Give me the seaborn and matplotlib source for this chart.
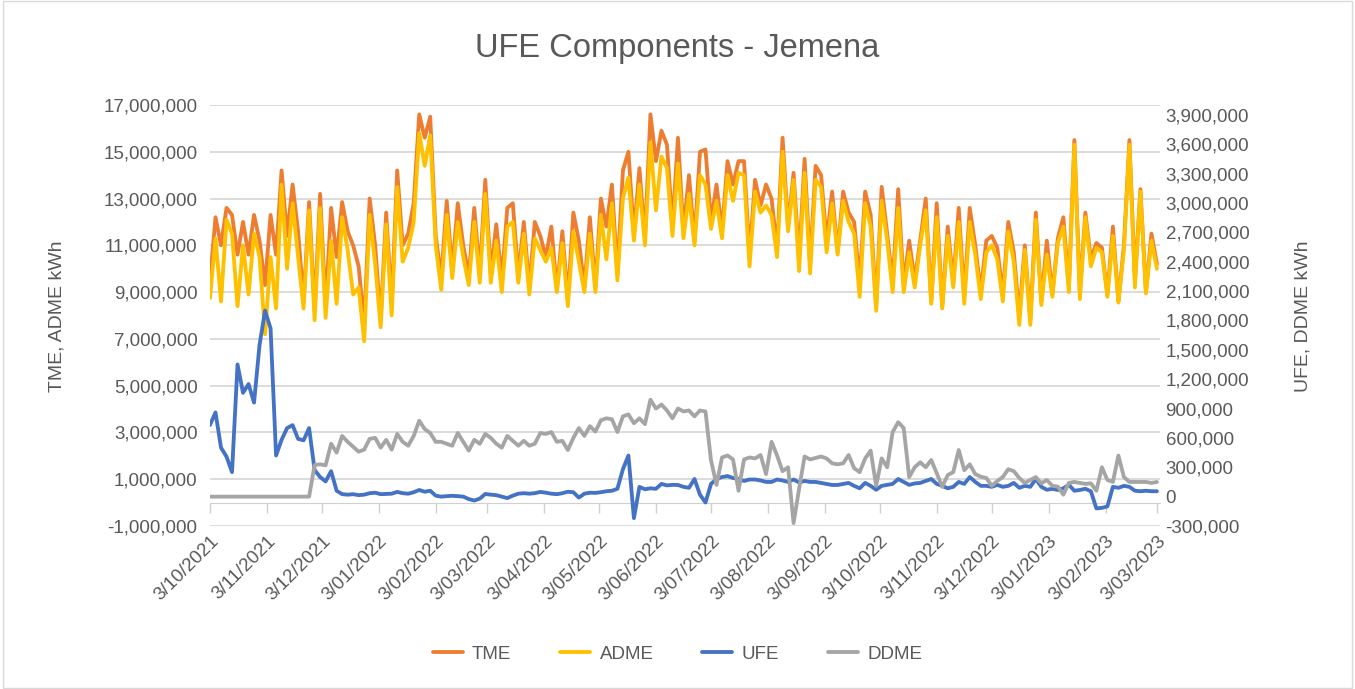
import numpy as np
import pandas as pd
import seaborn as sns
import matplotlib.pyplot as plt
import matplotlib.dates as mdates
from matplotlib.ticker import FuncFormatter

# readings taken off the chart every 3 days, starting 3/10/2021
start_date = "2021-10-03"
step = "3D"

# TME and ADME in millions of kWh (left axis)
tme_m = [
    9.45, 12.2, 11.0, 12.6, 12.3, 10.6, 12.0, 10.6, 12.3, 11.2,
    9.3, 12.3, 10.6, 14.2, 11.4, 13.6, 11.6, 8.6, 12.85, 8.2,
    13.2, 8.4, 12.6, 10.5, 12.85, 11.6, 11.0, 10.1, 7.6, 13.0,
    11.0, 7.8, 12.4, 8.5, 14.2, 11.0, 11.5, 12.8, 16.6, 15.6,
    16.5, 11.4, 9.6, 12.9, 9.9, 12.8, 11.0, 9.7, 12.6, 9.8,
    13.8, 9.8, 11.9, 9.5, 12.6, 12.8, 9.7, 12.0, 9.2, 12.0,
    11.4, 10.5, 11.8, 9.1, 11.6, 8.7, 12.4, 11.2, 9.2, 12.2,
    9.2, 13.0, 11.8, 13.6, 9.8, 14.2, 15.0, 11.5, 14.3, 11.3,
    16.6, 14.6, 15.9, 15.3, 11.8, 15.6, 11.6, 14.0, 11.2, 15.0,
    15.1, 12.0, 13.6, 11.6, 14.6, 13.6, 14.6, 14.6, 10.6, 13.8,
    12.7, 13.6, 13.0, 10.8, 15.6, 11.8, 14.1, 10.4, 14.7, 10.2,
    14.4, 14.0, 11.2, 13.3, 10.7, 13.3, 12.4, 12.0, 9.4, 13.3,
    12.3, 8.4, 13.5, 11.5, 9.4, 13.4, 9.3, 11.2, 9.5, 11.2,
    13.0, 8.6, 12.8, 8.4, 11.8, 9.4, 12.6, 8.8, 12.6, 11.0,
    9.0, 11.2, 11.4, 10.9, 8.9, 12.0, 10.7, 8.0, 11.0, 7.8,
    12.4, 8.6, 11.2, 8.9, 11.3, 12.2, 9.2, 15.5, 9.0, 12.4,
    10.4, 11.1, 10.9, 8.9, 11.8, 8.6, 11.0, 15.5, 9.5, 13.4,
    9.0, 11.5, 10.2,
]
adme_m = [
    8.75, 11.3, 8.6, 12.1, 11.5, 8.4, 11.0, 8.9, 11.5, 10.5,
    7.2, 10.5, 8.3, 13.6, 10.0, 12.8, 10.5, 8.3, 12.5, 7.8,
    12.6, 7.9, 11.2, 8.5, 12.2, 10.8, 8.9, 9.2, 6.9, 12.3,
    10.2, 7.5, 11.9, 8.0, 13.5, 10.3, 10.9, 12.0, 15.8, 14.4,
    15.7, 11.0, 9.1, 12.3, 9.6, 12.0, 10.5, 9.3, 12.0, 9.4,
    13.2, 9.4, 11.2, 9.0, 11.8, 12.0, 9.4, 11.5, 8.9, 11.3,
    10.8, 10.3, 10.9, 9.0, 11.1, 8.4, 11.6, 10.3, 9.0, 11.5,
    9.0, 12.3, 10.4, 12.8, 9.5, 13.0, 13.9, 11.2, 13.6, 11.0,
    15.4, 12.5, 14.8, 14.3, 11.4, 14.5, 11.3, 13.2, 11.0, 14.0,
    13.6, 11.7, 12.9, 11.3, 14.0, 12.9, 14.1, 14.0, 10.1, 13.3,
    12.4, 12.7, 12.3, 10.5, 15.0, 11.6, 13.8, 9.9, 14.1, 9.8,
    13.8, 13.5, 10.7, 12.8, 10.6, 12.9, 12.0, 11.5, 8.8, 12.8,
    11.8, 8.2, 12.9, 11.2, 9.0, 12.6, 9.0, 10.7, 9.2, 11.0,
    12.5, 8.5, 12.2, 8.3, 11.4, 9.2, 12.0, 8.5, 12.0, 10.6,
    8.7, 10.7, 11.0, 10.4, 8.6, 11.6, 10.3, 7.6, 10.8, 7.6,
    12.1, 8.45, 10.6, 8.8, 11.1, 11.8, 9.0, 15.3, 8.7, 12.2,
    10.1, 10.9, 10.7, 8.8, 11.4, 8.55, 10.8, 15.3, 9.2, 13.3,
    8.95, 11.2, 10.0,
]

# UFE and DDME in thousands of kWh (right axis)
ufe_k = [
    732, 860, 500, 408, 250, 1350, 1060, 1150, 960, 1550,
    1900, 1719, 420, 580, 700, 730, 590, 575, 700, 272,
    200, 155, 260, 60, 25, 20, 25, 15, 20, 35,
    40, 25, 28, 30, 48, 35, 30, 45, 68, 50,
    60, 10, 0, 5, 8, 5, 0, -25, -40, -20,
    27, 20, 15, 0, -15, 10, 30, 35, 30, 35,
    48, 40, 30, 25, 35, 50, 45, -10, 30, 40,
    38, 45, 55, 60, 80, 280, 420, -220, 100, 75,
    85, 80, 130, 115, 120, 119, 100, 90, 180, 20,
    -60, 130, 180, 200, 210, 190, 180, 160, 175, 175,
    165, 150, 150, 175, 165, 150, 175, 145, 160, 150,
    150, 140, 130, 119, 119, 130, 140, 110, 85, 140,
    110, 70, 110, 120, 130, 180, 150, 120, 135, 140,
    160, 180, 130, 110, 85, 100, 150, 130, 200, 150,
    110, 110, 100, 120, 100, 110, 140, 90, 110, 100,
    180, 100, 70, 80, 68, 85, 120, 60, 68, 80,
    55, -120, -115, -100, 100, 90, 110, 100, 60, 55,
    60, 55, 55,
]
ddme_k = [
    0, 0, 0, 0, 0, 0, 0, 0, 0, 0,
    0, 0, 0, 0, 0, 0, 0, 0, 0, 323,
    330, 320, 540, 450, 620, 560, 510, 459, 480, 590,
    600, 500, 580, 480, 640, 560, 520, 620, 775, 690,
    650, 560, 560, 540, 520, 650, 560, 470, 580, 540,
    640, 600, 540, 500, 620, 570, 520, 570, 520, 540,
    650, 640, 660, 560, 570, 476, 600, 700, 620, 720,
    664, 780, 800, 790, 660, 820, 840, 750, 800, 740,
    990, 900, 940, 880, 800, 900, 870, 880, 820, 880,
    870, 370, 120, 400, 420, 380, 60, 380, 400, 390,
    425, 230, 560, 420, 260, 300, -270, 80, 410, 380,
    395, 410, 390, 340, 330, 340, 425, 290, 250, 390,
    470, 110, 391, 300, 660, 760, 700, 200, 300, 350,
    300, 374, 240, 100, 220, 250, 476, 270, 330, 230,
    204, 190, 110, 160, 200, 280, 260, 190, 140, 170,
    200, 136, 170, 110, 102, 20, 140, 150, 140, 130,
    136, 60, 300, 170, 150, 420, 200, 150, 150, 150,
    150, 140, 150,
]

series_colors = {"TME": "#ED7D31", "ADME": "#FFC000", "UFE": "#4472C4", "DDME": "#A5A5A5"}
text_color = "#595959"
grid_color = "#d9d9d9"

dates = pd.date_range(start_date, periods=len(tme_m), freq=step)
df = pd.DataFrame({
    "date": dates,
    "TME": np.array(tme_m) * 1e6,
    "ADME": np.array(adme_m) * 1e6,
    "UFE": np.array(ufe_k) * 1e3,
    "DDME": np.array(ddme_k) * 1e3,
})

# x axis ticks on the 3rd of each month
month_ticks = pd.date_range("2021-10-01", "2023-03-01", freq="MS") + pd.Timedelta(days=2)
tick_labels = [f"{d.day}/{d.month:02d}/{d.year}" for d in month_ticks]

sns.set_style("white")
plt.rcParams["font.family"] = ["Liberation Sans", "DejaVu Sans"]

fig = plt.figure(figsize=(13.55, 6.89), dpi=100)
ax = fig.add_axes([210 / 1355, 1 - 526 / 689, 950 / 1355, 421 / 689])
ax2 = ax.twinx()

lw = 2.75
sns.lineplot(data=df, x="date", y="TME", ax=ax, color=series_colors["TME"], linewidth=lw, label="TME", legend=False)
sns.lineplot(data=df, x="date", y="ADME", ax=ax, color=series_colors["ADME"], linewidth=lw, label="ADME", legend=False)
sns.lineplot(data=df, x="date", y="UFE", ax=ax2, color=series_colors["UFE"], linewidth=lw, label="UFE", legend=False)
sns.lineplot(data=df, x="date", y="DDME", ax=ax2, color=series_colors["DDME"], linewidth=lw, label="DDME", legend=False)

comma = FuncFormatter(lambda v, pos: f"{v:,.0f}")

ax.set_ylim(-1e6, 17e6)
ax.set_yticks(np.arange(-1e6, 17.1e6, 2e6))
ax.yaxis.set_major_formatter(comma)
ax2.set_ylim(-3e5, 4e6)
ax2.set_yticks(np.arange(-3e5, 3.91e6, 3e5))
ax2.yaxis.set_major_formatter(comma)

ax.set_xlim(dates[0], dates[-1] + pd.Timedelta(hours=40))
ax.set_xticks(mdates.date2num(month_ticks))
ax.set_xticklabels(tick_labels, rotation=45, ha="right", rotation_mode="anchor")

ax.grid(axis="y", color=grid_color, linewidth=1.3)
ax.grid(axis="x", visible=False)
ax.set_axisbelow(True)
for a in (ax, ax2):
    for s in a.spines.values():
        s.set_visible(False)
    a.set_xlabel("")
    a.set_ylabel("")

ax.tick_params(axis="y", length=0, labelsize=13.5, labelcolor=text_color, pad=9)
ax2.tick_params(axis="y", length=0, labelsize=13.5, labelcolor=text_color, pad=4)
ax.tick_params(axis="x", length=0, labelsize=13.5, labelcolor=text_color, pad=5)

# date axis line crosses at zero on the left axis
sec = ax.secondary_xaxis(1 / 18)
sec.set_xticks(mdates.date2num(month_ticks))
sec.tick_params(axis="x", length=7, width=1, color="#d0d0d0", labelbottom=False, labeltop=False)
for s in sec.spines.values():
    s.set_color("#d0d0d0")

fig.text(0.5, 1 - 48 / 689, "UFE Components - Jemena", ha="center", va="center",
         fontsize=23.5, color=text_color)
fig.text(57 / 1355, 1 - 316 / 689, "TME, ADME kWh", rotation=90, ha="center", va="center",
         fontsize=14, color=text_color)
fig.text(1303 / 1355, 1 - 316 / 689, "UFE, DDME kWh", rotation=90, ha="center", va="center",
         fontsize=14, color=text_color)

h1, l1 = ax.get_legend_handles_labels()
h2, l2 = ax2.get_legend_handles_labels()
fig.legend(h1 + h2, l1 + l2, loc="center", bbox_to_anchor=(0.5, 1 - 654 / 689), ncol=4,
           frameon=False, fontsize=13.5, labelcolor=text_color, handlelength=1.6,
           columnspacing=2.6, handletextpad=0.5)

fig.add_artist(plt.Rectangle((0.002, 0.002), 0.996, 0.996, transform=fig.transFigure,
                             fill=False, edgecolor=grid_color, linewidth=1))

fig.savefig("out.png", dpi=100)
